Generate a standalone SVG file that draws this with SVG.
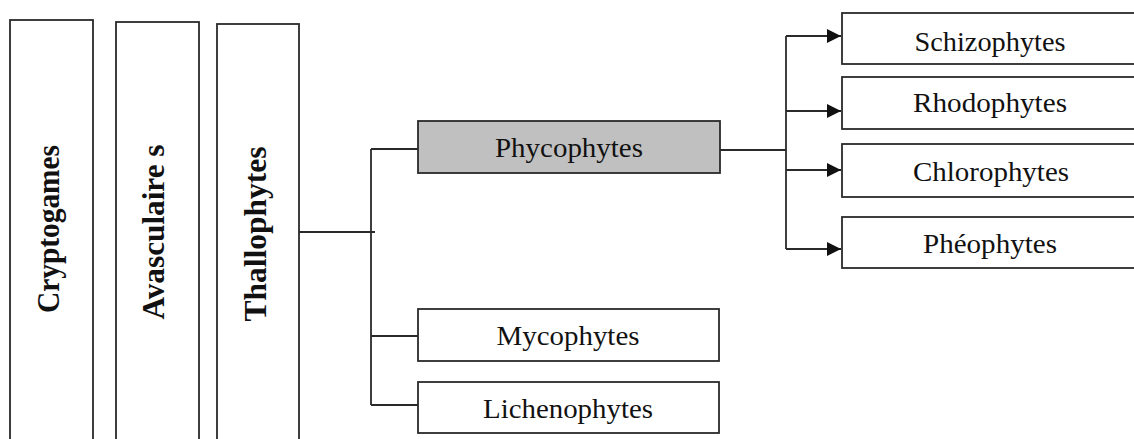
<svg xmlns="http://www.w3.org/2000/svg" width="1134" height="439" viewBox="0 0 1134 439">
<style>
.box{fill:#fff;stroke:#2a2a2a;stroke-width:1.8}
.grey{fill:#c0c0c0}
.vt{font-family:"Liberation Serif","Times New Roman",serif;font-weight:bold;font-size:32px;fill:#111;text-anchor:middle}
.ht{font-family:"Liberation Serif","Times New Roman",serif;font-size:27px;fill:#111;text-anchor:middle}
.ln{fill:none;stroke:#2a2a2a;stroke-width:1.8}
</style>
<defs>
<marker id="arr" markerUnits="userSpaceOnUse" markerWidth="15" markerHeight="15" refX="14" refY="7.5" orient="auto">
<path d="M0,0.5 L14,7.5 L0,14.5 Z" fill="#111"/>
</marker>
</defs>
<g id="connectors">
<path class="ln" d="M299,232 H375"/>
<path class="ln" d="M371,149 V405"/>
<path class="ln" d="M371,149 H418"/>
<path class="ln" d="M371,336 H418"/>
<path class="ln" d="M371,405 H418"/>
<path class="ln" d="M720,150 H786"/>
<path class="ln" d="M786,36 V249"/>
<path class="ln" d="M786,36 H841" marker-end="url(#arr)"/>
<path class="ln" d="M786,111 H841" marker-end="url(#arr)"/>
<path class="ln" d="M786,170 H841" marker-end="url(#arr)"/>
<path class="ln" d="M786,249 H841" marker-end="url(#arr)"/>
</g>
<g id="cryptogames">
<rect class="box" x="10" y="20" width="83" height="430"/>
<text class="vt" transform="translate(59,229) rotate(-90)" textLength="168" lengthAdjust="spacingAndGlyphs">Cryptogames</text>
</g>
<g id="avasculaires">
<rect class="box" x="116" y="22" width="83" height="430"/>
<text class="vt" transform="translate(164,232) rotate(-90)" textLength="175" lengthAdjust="spacingAndGlyphs">Avasculaire s</text>
</g>
<g id="thallophytes">
<rect class="box" x="217" y="24" width="82" height="430"/>
<text class="vt" transform="translate(266,234) rotate(-90)" textLength="175" lengthAdjust="spacingAndGlyphs">Thallophytes</text>
</g>
<g id="phycophytes">
<rect class="box grey" x="418" y="121" width="302" height="52"/>
<text class="ht" x="569" y="157" textLength="148" lengthAdjust="spacingAndGlyphs">Phycophytes</text>
</g>
<g id="mycophytes">
<rect class="box" x="418" y="309" width="301" height="52"/>
<text class="ht" x="568" y="345" textLength="143" lengthAdjust="spacingAndGlyphs">Mycophytes</text>
</g>
<g id="lichenophytes">
<rect class="box" x="418" y="382" width="301" height="51"/>
<text class="ht" x="568" y="418" textLength="170" lengthAdjust="spacingAndGlyphs">Lichenophytes</text>
</g>
<g id="schizophytes">
<rect class="box" x="842" y="13" width="300" height="51"/>
<text class="ht" x="990" y="51" textLength="151" lengthAdjust="spacingAndGlyphs">Schizophytes</text>
</g>
<g id="rhodophytes">
<rect class="box" x="842" y="77" width="300" height="52"/>
<text class="ht" x="990" y="112" textLength="154" lengthAdjust="spacingAndGlyphs">Rhodophytes</text>
</g>
<g id="chlorophytes">
<rect class="box" x="842" y="144" width="300" height="53"/>
<text class="ht" x="991" y="181" textLength="156" lengthAdjust="spacingAndGlyphs">Chlorophytes</text>
</g>
<g id="pheophytes">
<rect class="box" x="842" y="217" width="300" height="51"/>
<text class="ht" x="990" y="253" textLength="134" lengthAdjust="spacingAndGlyphs">Phéophytes</text>
</g>
</svg>
